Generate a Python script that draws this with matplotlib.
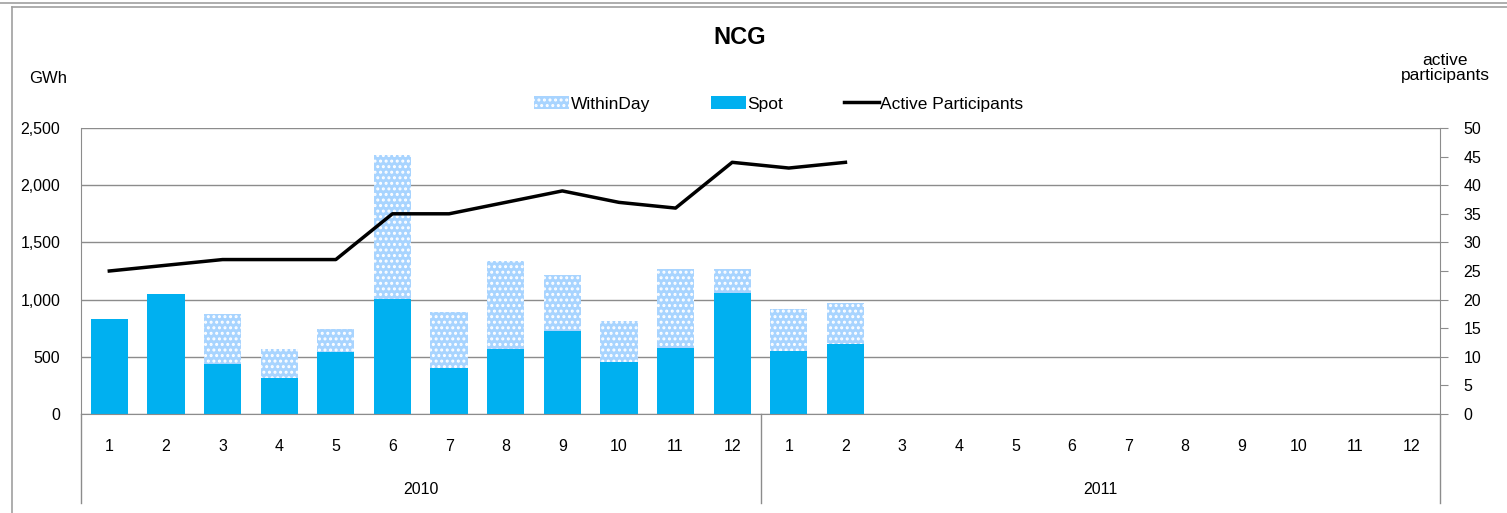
import matplotlib.pyplot as plt
import matplotlib.transforms as mtransforms
from matplotlib.lines import Line2D
from matplotlib.patches import Patch
import numpy as np

plt.rcParams['font.family'] = ['Liberation Sans', 'DejaVu Sans']
plt.rcParams['hatch.linewidth'] = 1.4

# data (GWh, monthly)
months = [str(m) for m in range(1, 13)] * 2
years = ['2010', '2011']
spot = [830, 1050, 437, 315, 542, 1005, 402, 568, 725, 454, 577, 1058, 551, 612]
total = [830, 1050, 874, 568, 743, 2264, 891, 1337, 1215, 813, 1267, 1267, 918, 970]
within_day = [t - s for t, s in zip(total, spot)]
participants = [25, 26, 27, 27, 27, 35, 35, 37, 39, 37, 36, 44, 43, 44]

spot_color = '#00b0f0'
wd_color = '#a8d4ff'
grid_color = '#8c8c8c'

fig = plt.figure(figsize=(15.07, 5.13), dpi=100)
W, H = 1507, 513
ax = fig.add_axes([81 / W, 1 - 414 / H, (1440 - 81) / W, (414 - 128) / H])

x = np.arange(len(spot))
ax.bar(x, spot, width=0.66, color=spot_color, zorder=2)
ax.bar(x, within_day, bottom=spot, width=0.66, color=wd_color,
       edgecolor='white', hatch='...', linewidth=0, zorder=2)

ax.set_xlim(-0.5, 23.5)
ax.set_ylim(0, 2500)
ax.set_yticks(np.arange(0, 2501, 500))
ax.set_yticklabels([f'{v:,}' for v in range(0, 2501, 500)], fontsize=11.5)
ax.yaxis.grid(True, color=grid_color, linewidth=1, zorder=0)
ax.tick_params(axis='y', length=0, pad=15)
ax.set_xticks(np.arange(24))
ax.set_xticklabels(months, fontsize=11.5)
ax.tick_params(axis='x', length=0, pad=18)
for s in ['top', 'right']:
    ax.spines[s].set_visible(False)
ax.spines['bottom'].set_color(grid_color)
ax.spines['left'].set_color(grid_color)
ax.spines['left'].set_bounds(0, 2500)

ax2 = ax.twinx()
ax2.plot(x, participants, color='black', linewidth=2.5, zorder=3)
ax2.set_ylim(0, 50)
ax2.set_yticks(np.arange(0, 51, 5))
ax2.tick_params(axis='y', length=6, color=grid_color, labelsize=11.5, pad=11)
for s in ['top', 'left', 'bottom']:
    ax2.spines[s].set_visible(False)
ax2.spines['right'].set_color(grid_color)

# two-level category axis
trans = mtransforms.blended_transform_factory(ax.transData, ax.transAxes)
for xs in [-0.5, 11.5, 23.5]:
    ax.add_line(Line2D([xs, xs], [0, -0.31], transform=trans, color=grid_color,
                       linewidth=1, clip_on=False))
for i, yr in enumerate(years):
    ax.text(5.5 + 12 * i, -0.265, yr, transform=trans, ha='center',
            va='center', fontsize=11.5)

# texts
fig.text(740 / W, 1 - 38 / H, 'NCG', ha='center', va='center',
         fontsize=17, fontweight='bold')
fig.text(48 / W, 1 - 79 / H, 'GWh', ha='center', va='center', fontsize=12)
fig.text(1445 / W, 1 - 68 / H, 'active\nparticipants', ha='center',
         va='center', fontsize=12.5, linespacing=1.0)

handles = [Patch(facecolor=wd_color, edgecolor='white', hatch='...', linewidth=0),
           Patch(facecolor=spot_color),
           Line2D([0], [0], color='black', linewidth=2.5)]
fig.legend(handles, ['WithinDay', 'Spot', 'Active Participants'],
           loc='center', bbox_to_anchor=(779 / W, 1 - 104 / H), ncol=3,
           frameon=False, fontsize=12.5, handlelength=2.0, handletextpad=0.1,
           columnspacing=3.5, handleheight=0.7)

# outer frame
fig.add_artist(Line2D([0, 1], [1 - 3 / H, 1 - 3 / H], color='#a0a0a0', linewidth=1.2))
fig.add_artist(Line2D([12 / W, 1], [1 - 7 / H, 1 - 7 / H], color='#a0a0a0', linewidth=1.2))
fig.add_artist(Line2D([12 / W, 12 / W], [0, 1 - 7 / H], color='#a0a0a0', linewidth=1.2))

fig.savefig('out.png', dpi=100)
